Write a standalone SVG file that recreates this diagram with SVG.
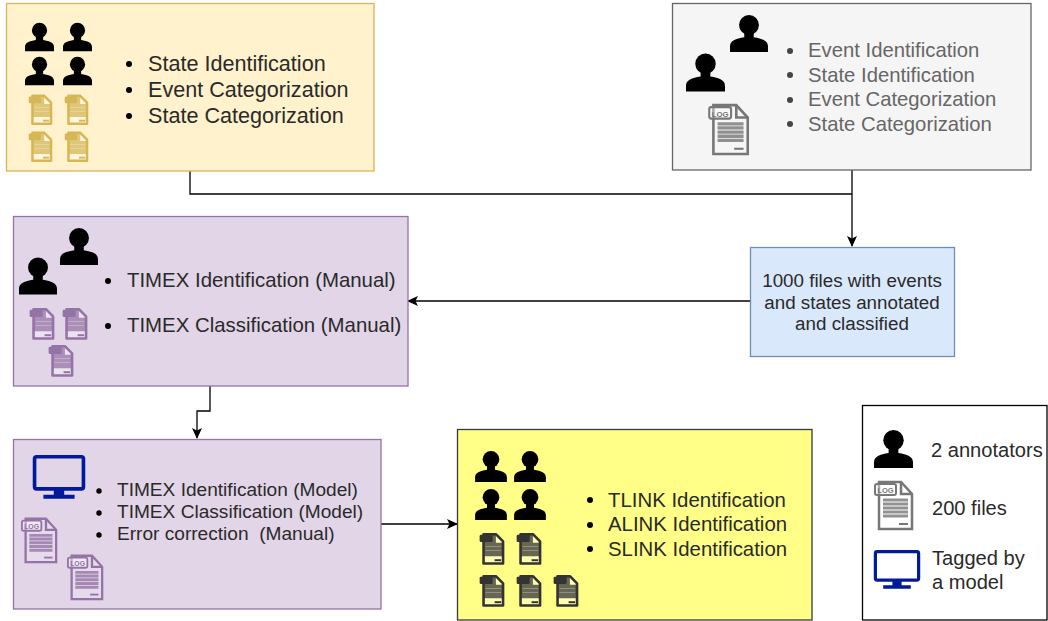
<svg xmlns="http://www.w3.org/2000/svg" width="1048" height="621" viewBox="0 0 1048 621">
<style>
text{font-family:"Liberation Sans",Arial,sans-serif;fill:#2a2a2a;white-space:pre}
.y text{font-size:21.600px}
.gray text{fill:#666;font-size:20.300px}
.b text{font-size:18.800px;text-anchor:middle}
.p1 text{font-size:20.400px}
.p2 text{font-size:19.100px}
.l text{font-size:20.400px}
.k text{font-size:20.100px}
.line{fill:none;stroke:#000;stroke-width:1.300}
.box{stroke-width:1.300}
</style>
<defs>
<marker id="a" markerWidth="12" markerHeight="12" refX="10" refY="5" orient="auto" markerUnits="userSpaceOnUse"><path d="M0 0L11 5L0 10L2.500 5Z" fill="#000"/></marker>
<symbol id="person" viewBox="0 0 40 39" overflow="visible"><circle cx="20" cy="10.500" r="10.500" fill="#000"/><path d="M0 39V33C0 27 6 25 15 23.500V18H25V23.500C34 25 40 27 40 33V39Z" fill="#000"/></symbol>
<symbol id="doc" viewBox="0 0 40 50" overflow="visible"><path d="M5 2H27L38 14V49H5Z" fill="#fff" fill-opacity=".15" stroke="currentColor" stroke-width="2.500"/><path d="M27 2V14H38" fill="none" stroke="currentColor" stroke-width="2.500"/><rect x="1" y="4" width="21" height="11" rx="2" fill="#fff" fill-opacity=".4" stroke="currentColor" stroke-width="2"/><text x="11.500" y="13" text-anchor="middle" style="font-size:7.500px;font-weight:bold;fill:currentColor">LOG</text><path d="M9 20H34M9 24H34M9 28H34M9 32H34M9 36H34" stroke="currentColor" stroke-opacity=".8" stroke-width="3.200"/><path d="M25 44H34" stroke="currentColor" stroke-width="2"/></symbol>
<symbol id="docs" viewBox="0 0 40 50" overflow="visible"><path d="M7 3H26L37 14V48H7Z" fill="#fff" fill-opacity=".35" stroke="currentColor" stroke-width="4" stroke-linejoin="round"/><path d="M7 3H26V16H37V37H7Z" fill="currentColor" fill-opacity=".75"/><rect x="1" y="4" width="20" height="11" rx="2" fill="currentColor"/><path d="M10 22H34M10 28H34" stroke="#fff" stroke-opacity=".3" stroke-width="1.500"/><path d="M24 43H34" stroke="currentColor" stroke-width="3"/></symbol>
<symbol id="pc" viewBox="0 0 50 43" overflow="visible"><rect x="1.500" y="1.500" width="47" height="31" rx="2" fill="none" stroke="#001a99" stroke-width="3.500"/><path d="M20 33H30V38H40V42H10V38H20Z" fill="#001a99"/></symbol>
</defs>
<g id="connectors">
<path class="line" d="M190 171V194H852"/>
<path class="line" d="M852 170V246" marker-end="url(#a)"/>
<path class="line" d="M750 301H408" marker-end="url(#a)"/>
<path class="line" d="M210 386V411H197V438" marker-end="url(#a)"/>
<path class="line" d="M381 524H457" marker-end="url(#a)"/>
</g>
<g id="node-yellow" class="y">
<rect class="box" x="6.500" y="3.500" width="367.500" height="167.500" fill="#fff2cc" stroke="#d6b656"/>
<use href="#person" x="25" y="22" width="29" height="30"/><use href="#person" x="63" y="22" width="29" height="30"/>
<use href="#person" x="25" y="56" width="29" height="30"/><use href="#person" x="63" y="56" width="29" height="30"/>
<g color="#d6b656"><use href="#docs" x="28" y="94" width="25" height="31"/><use href="#docs" x="64" y="94" width="25" height="31"/>
<use href="#docs" x="28" y="131" width="25" height="31"/><use href="#docs" x="64" y="131" width="25" height="31"/></g>
<circle cx="129" cy="64" r="3"/><circle cx="129" cy="90" r="3"/><circle cx="129" cy="116" r="3"/>
<text x="148" y="70.500">State Identification</text><text x="148" y="96.500">Event Categorization</text><text x="148" y="122.500">State Categorization</text>
</g>
<g id="node-gray" class="gray">
<rect class="box" x="672.500" y="3.500" width="358.500" height="166.500" fill="#f5f5f5" stroke="#666"/>
<use href="#person" x="730" y="15" width="38" height="37"/><use href="#person" x="686" y="53" width="39" height="39"/>
<use href="#doc" x="708" y="103" width="42" height="52" color="#777"/>
<g fill="#444"><circle cx="790" cy="51" r="3"/><circle cx="790" cy="75" r="3"/><circle cx="790" cy="100" r="3"/><circle cx="790" cy="124" r="3"/></g>
<text x="808" y="57">Event Identification</text><text x="808" y="81.500">State Identification</text><text x="808" y="106">Event Categorization</text><text x="808" y="130.500">State Categorization</text>
</g>
<g id="node-blue" class="b">
<rect class="box" x="750.500" y="247.500" width="204" height="109" fill="#dae8fc" stroke="#6c8ebf"/>
<text x="852" y="287">1000 files with events</text><text x="852" y="308.500">and states annotated</text><text x="852" y="330">and classified</text>
</g>
<g id="node-purple-1" class="p1">
<rect class="box" x="13.500" y="216.500" width="394.500" height="169.500" fill="#e1d5e7" stroke="#9673a6"/>
<use href="#person" x="60" y="228" width="38" height="37"/><use href="#person" x="19" y="257" width="38" height="38"/>
<g color="#9673a6"><use href="#docs" x="29" y="307" width="26" height="33"/><use href="#docs" x="62" y="307" width="26" height="33"/><use href="#docs" x="48" y="344" width="26" height="33"/></g>
<circle cx="108" cy="281" r="3"/><circle cx="108" cy="326" r="3"/>
<text x="127" y="287">TIMEX Identification (Manual)</text><text x="127" y="332">TIMEX Classification (Manual)</text>
</g>
<g id="node-purple-2" class="p2">
<rect class="box" x="13.500" y="439.500" width="367.500" height="169.500" fill="#e1d5e7" stroke="#9673a6"/>
<use href="#pc" x="33" y="455" width="52" height="45"/>
<g color="#9673a6"><use href="#doc" x="21" y="516" width="37" height="48"/><use href="#doc" x="67" y="553" width="37" height="48"/></g>
<circle cx="99" cy="491" r="2.700"/><circle cx="99" cy="513" r="2.700"/><circle cx="99" cy="535" r="2.700"/>
<text x="117" y="496">TIMEX Identification (Model)</text><text x="117" y="518">TIMEX Classification (Model)</text><text x="117" y="540">Error correction  (Manual)</text>
</g>
<g id="node-lemon" class="l">
<rect class="box" x="457.500" y="429.500" width="354.500" height="190.500" fill="#ffff88" stroke="#36393d"/>
<use href="#person" x="475" y="451" width="32" height="31"/><use href="#person" x="514" y="451" width="32" height="31"/>
<use href="#person" x="475" y="489" width="32" height="31"/><use href="#person" x="514" y="489" width="32" height="31"/>
<g color="#333"><use href="#docs" x="479" y="532" width="26" height="33"/><use href="#docs" x="516" y="532" width="26" height="33"/>
<use href="#docs" x="479" y="574" width="26" height="33"/><use href="#docs" x="516" y="574" width="26" height="33"/><use href="#docs" x="553" y="574" width="26" height="33"/></g>
<circle cx="590" cy="500" r="3"/><circle cx="590" cy="525" r="3"/><circle cx="590" cy="549" r="3"/>
<text x="608" y="506.500">TLINK Identification</text><text x="608" y="530.500">ALINK Identification</text><text x="608" y="555.500">SLINK Identification</text>
</g>
<g id="legend" class="k">
<rect class="box" x="862.500" y="405.500" width="184.500" height="214.500" fill="#fff" stroke="#000"/>
<use href="#person" x="874" y="430" width="39" height="38"/>
<use href="#doc" x="874" y="480" width="40" height="50" color="#777"/>
<use href="#pc" x="874" y="549" width="46" height="42"/>
<text x="931" y="457">2 annotators</text><text x="932" y="515">200 files</text><text x="932" y="565">Tagged by</text><text x="932" y="589">a model</text>
</g>
</svg>
